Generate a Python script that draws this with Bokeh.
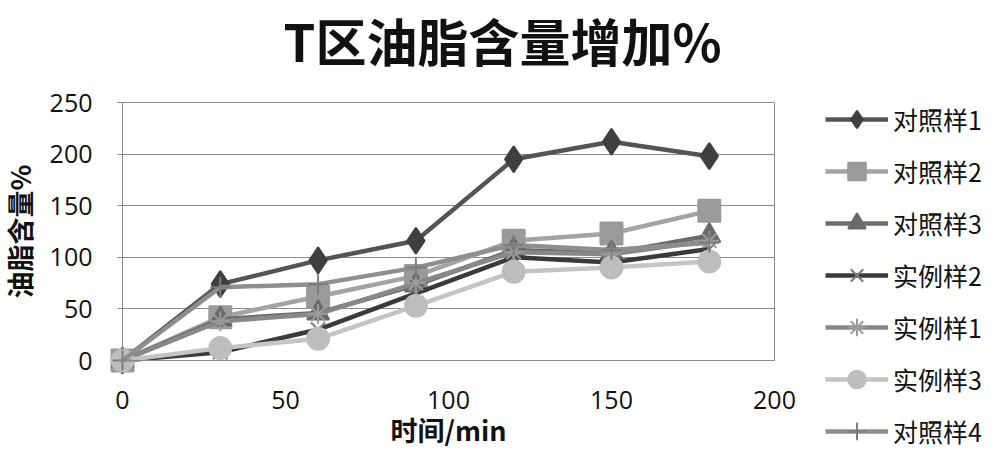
from bokeh.plotting import figure
from bokeh.models import Legend, LegendItem, FixedTicker, Label
from bokeh.embed import file_html
from bokeh.resources import INLINE

# ---- data ----
times = [0, 30, 60, 90, 120, 150, 180]
series_names = ["对照样1", "对照样2", "对照样3", "实例样2", "实例样1", "实例样3", "对照样4"]
ctrl1 = [0, 74, 97, 116, 195, 212, 198]
ctrl2 = [0, 42, 62, 82, 116, 123, 145]
ctrl3 = [0, 40, 46, 73, 107, 104, 121]
ex2 = [0, 8, 30, 65, 100, 95, 108]
ex1 = [0, 38, 45, 75, 105, 103, 116]
ex3 = [0, 12, 21, 53, 86, 90, 96]
ctrl4 = [0, 71, 74, 90, 112, 107, 114]
x_ticks = [0, 50, 100, 150, 200]
y_ticks = [0, 50, 100, 150, 200, 250]
title_text = "T区油脂含量增加%"
x_label = "时间/min"
y_label = "油脂含量%"

series_values = [ctrl1, ctrl2, ctrl3, ex2, ex1, ex3, ctrl4]
styles = [
    dict(line="#545454", marker="diamond", size=26, fill="#3f3f3f", mline="#3f3f3f"),
    dict(line="#a3a3a3", marker="square", size=22, fill="#9a9a9a", mline="#9a9a9a"),
    dict(line="#6c6c6c", marker="triangle", size=22, fill="#6a6a6a", mline="#6a6a6a"),
    dict(line="#3a3a3a", marker="x", size=20, fill="#7a7a7a", mline="#7a7a7a"),
    dict(line="#888888", marker="asterisk", size=20, fill="#9a9a9a", mline="#9a9a9a"),
    dict(line="#c4c4c4", marker="circle", size=22, fill="#bdbdbd", mline="#bdbdbd"),
    dict(line="#8e8e8e", marker="cross", size=20, fill="#7c7c7c", mline="#7c7c7c"),
]

CJK = "Noto Sans CJK SC"
NUM = "Open Sans"
GRID = "#8a8a8a"

# ---- layout (pixels) ----
W, H = 984, 449
AREA_L, AREA_T, AREA_W, AREA_H = 122, 102, 652, 258   # plotting area inside the figure
x_per_px = x_ticks[-1] / AREA_W
y_per_px = y_ticks[-1] / AREA_H
x_start = -AREA_L * x_per_px
x_end = (W - AREA_L) * x_per_px
y_start = -(H - AREA_T - AREA_H) * y_per_px
y_end = y_ticks[-1] + AREA_T * y_per_px

p = figure(width=W, height=H, x_range=(x_start, x_end), y_range=(y_start, y_end),
           output_backend="svg", toolbar_location=None,
           min_border_left=0, min_border_right=0, min_border_top=0, min_border_bottom=0)
p.background_fill_color = "white"
p.border_fill_color = "white"
p.outline_line_color = None

xb = (x_ticks[0], x_ticks[-1])
yb = (y_ticks[0], y_ticks[-1])
p.ygrid.ticker = FixedTicker(ticks=y_ticks)
p.ygrid.cross_bounds = xb
p.ygrid.grid_line_color = GRID
p.xgrid.ticker = FixedTicker(ticks=[x_ticks[-1]])
p.xgrid.cross_bounds = yb
p.xgrid.bounds = xb
p.xgrid.grid_line_color = GRID

p.xaxis.ticker = FixedTicker(ticks=x_ticks)
p.yaxis.ticker = FixedTicker(ticks=y_ticks)
p.xaxis.bounds = xb
p.yaxis.bounds = yb
p.xaxis.fixed_location = y_ticks[0]
p.yaxis.fixed_location = x_ticks[0]
for ax in (p.xaxis[0], p.yaxis[0]):
    ax.axis_line_color = GRID
    ax.major_tick_line_color = GRID
    ax.minor_tick_line_color = None
    ax.major_tick_in = 0
    ax.major_label_text_font = NUM
    ax.major_label_text_font_size = "25px"
    ax.major_label_text_color = "#111111"
    ax.axis_label_text_font = CJK
    ax.axis_label_text_font_style = "bold"
    ax.axis_label_text_font_size = "27px"
    ax.axis_label_text_color = "#111111"
p.xaxis.major_tick_out = 0
p.xaxis.major_label_standoff = 30
p.xaxis.axis_label = x_label
p.xaxis.axis_label_standoff = -2
p.yaxis.major_tick_out = 5
p.yaxis.major_label_standoff = 25
p.yaxis.axis_label = y_label
p.yaxis.axis_label_standoff = 8

items = []
for name, vals, st in zip(series_names, series_values, styles):
    r1 = p.line(times, vals, line_color=st["line"], line_width=4.5)
    r2 = p.scatter(times, vals, marker=st["marker"], size=st["size"],
                   fill_color=st["fill"], line_color=st["mline"], line_width=2)
    items.append(LegendItem(label=name, renderers=[r1, r2]))

legend = Legend(items=items, location=(825, -4), orientation="vertical",
                glyph_width=63, glyph_height=44, label_height=30, spacing=8,
                label_standoff=5, padding=0, margin=0,
                label_text_font=CJK, label_text_font_size="25px", label_text_color="#111111",
                border_line_color=None, background_fill_alpha=0)
p.add_layout(legend)

p.add_layout(Label(x=502, y=H - 39, x_units="screen", y_units="screen", text=title_text,
                   text_align="center", text_baseline="middle", text_font=CJK,
                   text_font_style="bold", text_font_size="51px", text_color="#111111"))

open("out.html", "w").write(file_html(p, INLINE))
